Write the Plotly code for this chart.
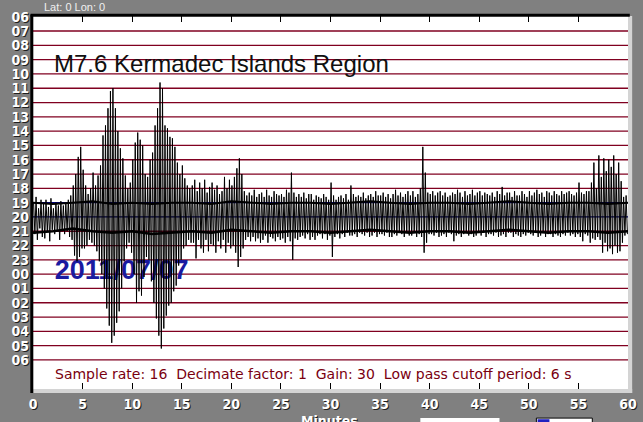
import plotly.graph_objects as go

# Filas del helicorder (una hora por fila) y marcas del eje de minutos
hour_labels = ["06", "07", "08", "09", "10", "11", "12", "13", "14", "15", "16", "17", "18",
               "19", "20", "21", "22", "23", "00", "01", "02", "03", "04", "05", "06"]
minute_ticks = [0, 5, 10, 15, 20, 25, 30, 35, 40, 45, 50, 55, 60]

# Fila del sismo (20 h) y filas vecinas casi planas
event_row = 14
slot = 0.25  # minutos por oscilacion

# Amplitud de cada pico hacia arriba / abajo (decimas de fila), 4 por minuto
peak_up = [
    10, 14, 6, 12,   9, 12, 7, 13,   6, 10, 8, 11,   8, 10, 12, 15,      # 0-3
    22, 30, 42, 49,  33, 22, 16, 20,  31, 22, 29, 36,  57, 64, 76, 88,   # 4-7
    90, 76, 60, 48,  41, 29, 20, 24,  40, 52, 59, 54,  50, 30, 28, 40,   # 8-11
    45, 64, 76, 94,  90, 64, 62, 56,  55, 49, 38, 30,  36, 27, 22, 20,   # 12-15
    22, 26, 18, 24,  20, 26, 17, 21,  24, 19, 22, 16,  18, 28, 20, 26,   # 16-19
    22, 28, 34, 41,  30, 18, 15, 17,  15, 19, 14, 16,  17, 14, 19, 15,   # 20-23
    14, 18, 16, 15,  16, 14, 19, 17,  31, 17, 14, 16,  14, 17, 13, 16,   # 24-27
    16, 12, 15, 14,  13, 16, 14, 12,  24, 15, 12, 14,  15, 13, 16, 12,   # 28-31
    22, 16, 14, 15,  14, 17, 13, 15,  16, 14, 18, 15,  15, 17, 14, 16,   # 32-35
    13, 16, 19, 15,  17, 14, 16, 18,  15, 18, 14, 16,  20, 49, 31, 17,   # 36-39
    16, 18, 15, 17,  18, 15, 17, 14,  15, 17, 16, 19,  17, 14, 18, 15,   # 40-43
    16, 19, 15, 17,  18, 15, 17, 16,  15, 17, 14, 18,  16, 21, 15, 17,   # 44-47
    17, 14, 18, 15,  15, 18, 16, 14,  18, 15, 17, 19,  16, 17, 14, 18,   # 48-51
    17, 15, 18, 16,  15, 18, 16, 17,  18, 16, 15, 17,  24, 17, 16, 18,   # 52-55
    18, 24, 38, 20,  43, 28, 41, 32,  40, 35, 43, 30,  38, 25, 14, 15,   # 56-59
]
peak_down = [
    12, 16, 8, 14,   15, 10, 17, 9,   12, 9, 16, 10,   12, 10, 14, 16,    # 0-3
    27, 31, 28, 22,  22, 20, 16, 18,  20, 24, 31, 40,  50, 64, 76, 88,   # 4-7
    83, 74, 66, 50,  31, 22, 18, 25,  40, 60, 52, 55,  42, 28, 30, 45,   # 8-11
    60, 71, 83, 92,  78, 69, 62, 60,  52, 48, 34, 30,  22, 20, 16, 18,   # 12-15
    18, 29, 16, 22,  25, 16, 24, 19,  20, 25, 17, 22,  16, 25, 18, 22,   # 16-19
    20, 25, 35, 28,  22, 16, 14, 17,  14, 17, 15, 18,  16, 13, 18, 14,   # 20-23
    15, 17, 14, 16,  15, 18, 14, 17,  30, 15, 16, 14,  13, 15, 12, 16,   # 24-27
    14, 16, 13, 12,  15, 12, 16, 13,  28, 14, 12, 15,  12, 14, 11, 13,   # 28-31
    13, 12, 14, 11,  12, 13, 11, 14,  13, 11, 14, 12,  12, 13, 11, 14,   # 32-35
    14, 12, 13, 11,  12, 14, 11, 13,  13, 11, 14, 12,  14, 25, 18, 12,   # 36-39
    12, 13, 11, 14,  13, 12, 14, 11,  12, 17, 13, 12,  14, 12, 11, 13,   # 40-43
    12, 14, 13, 11,  13, 11, 14, 12,  12, 13, 11, 14,  13, 12, 14, 11,   # 44-47
    11, 14, 12, 13,  14, 12, 13, 11,  12, 13, 11, 14,  13, 11, 14, 12,   # 48-51
    12, 14, 12, 13,  14, 12, 13, 11,  13, 12, 14, 12,  14, 17, 12, 13,   # 52-55
    18, 15, 16, 14,  16, 25, 18, 24,  22, 26, 20, 25,  24, 18, 13, 12,   # 56-59
]

# Trazas vecinas (19 h y 21 h): desviacion en decimas de fila cada 2 minutos
quiet_minutes = [0, 2, 4, 6, 8, 10, 12, 14, 16, 18, 20, 22, 24, 26, 28, 30,
                 32, 34, 36, 38, 40, 42, 44, 46, 48, 50, 52, 54, 56, 58, 60]
row19_wobble = [0, 1, 0, -1, 1, 0, 1, 0, 0, 1, -1, 0, 1, 0, 0, 1,
                0, -1, 0, 1, 0, 0, 1, 0, -1, 0, 1, 0, 0, 1, 0]
row21_wobble = [1, 0, -2, 0, 1, 0, 2, 1, 0, 1, -1, 0, 1, 0, 0, 1,
                0, -1, 0, 1, 0, 0, 1, 0, -1, 0, 1, 0, 0, 1, 0]

maroon = "#800020"
navy = "#000080"
label_font = dict(family="Liberation Sans Narrow, DejaVu Sans Condensed, Arial Narrow, sans-serif",
                  size=14, color="white", weight="bold", shadow="1px 1px 0px #202020")

# Zigzag del sismograma a partir de los picos leidos
ev_x, ev_y = [], []
for i in range(len(peak_up)):
    ev_x += [i * slot + 0.06, i * slot + 0.19]
    ev_y += [event_row - peak_up[i] / 10, event_row + peak_down[i] / 10]

fig = go.Figure()

# Fecha detras de las trazas
fig.add_trace(go.Scatter(x=[2.2], y=[17.85], mode="text", text=["2011/07/07"],
                         textposition="middle right",
                         textfont=dict(family="Liberation Sans, Arial", size=27, color="#1a1aa0",
                                       weight="bold"),
                         hoverinfo="skip", showlegend=False))

fig.add_trace(go.Scatter(x=quiet_minutes, y=[event_row - 1 + w / 10 for w in row19_wobble],
                         mode="lines", line=dict(color="black", width=2), showlegend=False))
fig.add_trace(go.Scatter(x=quiet_minutes, y=[event_row + 1 + w / 10 for w in row21_wobble],
                         mode="lines", line=dict(color="black", width=2.5), showlegend=False))
fig.add_trace(go.Scatter(x=ev_x, y=ev_y, mode="lines", line=dict(color="black", width=1),
                         showlegend=False))

# Lineas de cada hora
shapes = []
for r in range(1, len(hour_labels)):
    col = navy if r in (13, 14) else maroon
    shapes.append(dict(type="line", xref="paper", yref="y", x0=0, x1=1, y0=r, y1=r,
                       line=dict(color=col, width=1.3), layer="below"))
# Marco: bordes negros arriba/izquierda, relieve gris claro abajo/derecha
shapes += [
    dict(type="rect", xref="paper", yref="paper", x0=0, x1=1.007, y0=-0.011, y1=0,
         fillcolor="#d4d4d4", line=dict(width=0)),
    dict(type="rect", xref="paper", yref="paper", x0=1, x1=1.007, y0=-0.011, y1=1,
         fillcolor="#d4d4d4", line=dict(width=0)),
    dict(type="line", xref="paper", yref="paper", x0=-0.004, x1=1.003, y0=1.002, y1=1.002,
         line=dict(color="black", width=3)),
    dict(type="line", xref="paper", yref="paper", x0=-0.002, x1=-0.002, y0=-0.011, y1=1.004,
         line=dict(color="black", width=3)),
    # cajas recortadas al pie
    dict(type="rect", xref="paper", yref="paper", x0=0.651, x1=0.784, y0=-0.2, y1=-0.078,
         fillcolor="white", line=dict(width=0)),
    dict(type="rect", xref="paper", yref="paper", x0=0.846, x1=0.94, y0=-0.2, y1=-0.078,
         fillcolor="white", line=dict(color="black", width=1)),
    dict(type="rect", xref="paper", yref="paper", x0=0.848, x1=0.868, y0=-0.2, y1=-0.081,
         fillcolor="#2020c0", line=dict(width=0)),
]

annotations = [
    dict(text="Lat: 0 Lon: 0", xref="paper", yref="paper", x=0.015, y=1.0, yshift=9,
         xanchor="left", yanchor="middle", showarrow=False,
         font=dict(family="Liberation Sans, Arial", size=11, color="#f0f0f0")),
    dict(text="M7.6 Kermadec Islands Region", xref="x", yref="y", x=1.9, y=3.3,
         xanchor="left", yanchor="middle", showarrow=False,
         font=dict(family="Liberation Sans, Arial", size=24, color="#101010")),
    dict(text="Sample rate: 16 \u00a0Decimate factor: 1 \u00a0Gain: 30 \u00a0Low pass cutoff period: 6 s",
         xref="paper", yref="y", x=0.471, y=24.95, xanchor="center", yanchor="middle",
         showarrow=False, font=dict(family="DejaVu Sans, Verdana", size=14, color="#7a0010")),
    dict(text="Minutes", xref="paper", yref="paper", x=0.498, y=-0.058, xanchor="center",
         yanchor="top", showarrow=False, font=label_font),
]

fig.update_layout(
    width=643, height=422,
    margin=dict(l=33, r=15, t=16, b=33),
    paper_bgcolor="#808080", plot_bgcolor="white",
    shapes=shapes, annotations=annotations,
    xaxis=dict(range=[0, 60], tickvals=minute_ticks, ticktext=[str(m) for m in minute_ticks],
               ticks="inside", ticklen=6, tickcolor="black", tickwidth=1, mirror="ticks",
               showgrid=False, zeroline=False, showline=False, tickfont=label_font,
               ticklabelstandoff=5, automargin=False),
    yaxis=dict(range=[26.03, -0.05], tickvals=list(range(len(hour_labels))), ticktext=hour_labels,
               ticks="", showgrid=False, zeroline=False, showline=False, tickfont=label_font,
               ticklabelstandoff=3, automargin=False),
)

# la pagina trae 8px de margen por defecto: se quita para que la figura ocupe la ventana
fig.write_html("out.html", config={"displayModeBar": False},
               post_script="document.body.style.margin='0';")
